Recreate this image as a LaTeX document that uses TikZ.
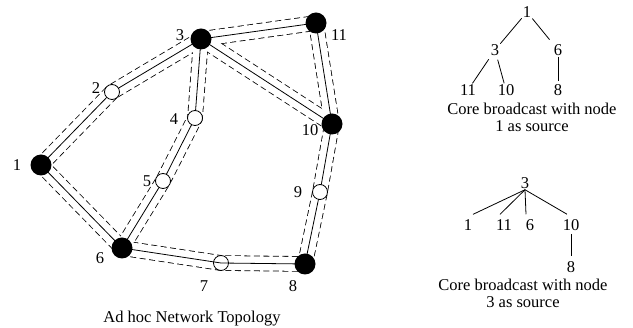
\documentclass[tikz,border=0pt]{standalone}
\usepackage{fontspec}
\setmainfont{Liberation Serif}
\begin{document}
\begin{tikzpicture}[x=1pt,y={(0,-1pt)},
  font=\fontsize{16.5}{17}\selectfont,
  hub/.style={circle,fill=black,inner sep=0pt,minimum size=21pt},
  relay/.style={circle,draw=black,fill=white,line width=0.8pt,inner sep=0pt,minimum size=15pt},
  relayopen/.style={circle,draw=black,line width=0.8pt,inner sep=0pt,minimum size=15pt},
  lbl/.style={inner sep=0pt},
  tlbl/.style={inner sep=1pt},
  band/.style={line width=15.6pt,dash pattern=on 6pt off 3.5pt,line join=miter,line cap=butt},
  bandfill/.style={white,line width=14pt,line join=miter,line cap=butt},
  link/.style={line width=0.8pt},
  tedge/.style={line width=0.8pt}]
\useasboundingbox (0,0) rectangle (633,328);
% network nodes (positions)
\coordinate (p1) at (41,165);
\coordinate (p2) at (112,92);
\coordinate (p3) at (201,39);
\coordinate (p4) at (195,118);
\coordinate (p5) at (163,181);
\coordinate (p6) at (122,248);
\coordinate (p7) at (221,263);
\coordinate (p8) at (305,264);
\coordinate (p9) at (320,192);
\coordinate (p10) at (332,124);
\coordinate (p11) at (316,23);
% dashed bands
\foreach \s in {band,bandfill}{
  \draw[\s] (p1) -- (p2) -- (p3);
  \draw[\s] (p3) -- (p4) -- (p5) -- (p6);
  \draw[\s] (p1) -- (p6);
  \draw[\s] (p6) -- (p7) -- (p8);
  \draw[\s] (p8) -- (p9) -- (p10);
  \draw[\s] (p10) -- (p11);
  \draw[\s] (p3) -- (p11);
  \draw[\s] (p3) -- (p10);
}
% solid links
\draw[link] (p1) -- (p2) -- (p3);
\draw[link] (p3) -- (p4) -- (p5) -- (p6);
\draw[link] (p1) -- (p6);
\draw[link] (p6) -- (p7) -- (p8);
\draw[link] (p8) -- (p9) -- (p10);
\draw[link] (p10) -- (p11);
\draw[link] (p3) -- (p11);
\draw[link] (p3) -- (p10);
% node glyphs
\node[hub] (n1) at (p1) {};
\node[relay] (n2) at (p2) {};
\node[hub] (n3) at (p3) {};
\node[relay] (n4) at (p4) {};
\node[relay] (n5) at (p5) {};
\node[hub] (n6) at (p6) {};
\node[relayopen] (n7) at (p7) {};
\node[hub] (n8) at (p8) {};
\node[relay] (n9) at (p9) {};
\node[hub] (n10) at (p10) {};
\node[hub] (n11) at (p11) {};
% labels
\node[lbl] (l1) at (17,165) {1};
\node[lbl] (l2) at (96,88) {2};
\node[lbl] (l3) at (180,35) {3};
\node[lbl] (l4) at (174,119) {4};
\node[lbl] (l5) at (147,181) {5};
\node[lbl] (l6) at (100,258) {6};
\node[lbl] (l7) at (204,286) {7};
\node[lbl] (l8) at (293,286) {8};
\node[lbl] (l9) at (298,192) {9};
\node[lbl] (l10) at (310,130) {10};
\node[lbl] (l11) at (339,35) {11};
\node[lbl,anchor=base] (cap) at (192,323) {Ad hoc Network Topology};
% tree 1
\node[tlbl] (a1) at (527,12) {1};
\node[tlbl] (a3) at (495,50) {3};
\node[tlbl] (a6) at (558,50) {6};
\node[tlbl] (a11) at (468,90) {11};
\node[tlbl] (a10) at (506,90) {10};
\node[tlbl] (a8) at (558,90) {8};
\draw[tedge] (a1) -- (a3);
\draw[tedge,shorten >=5pt] (a1) -- (a6);
\draw[tedge,shorten <=3pt] (a3) -- (a11);
\draw[tedge,shorten <=3pt] (a3) -- (a10);
\draw[tedge,shorten >=2pt] (a6) -- (a8);
\node[lbl,align=center] (c1) at (532,117) {Core broadcast with node\\1 as source};
% tree 2
\node[tlbl] (b3) at (525,183) {3};
\node[tlbl] (b1) at (468,225) {1};
\node[tlbl] (b11) at (504,225) {11};
\node[tlbl] (b6) at (530,225) {6};
\node[tlbl] (b10) at (571,225) {10};
\node[tlbl] (b8) at (571,267) {8};
\draw[tedge] (b3.south) -- ([xshift=5pt,yshift=4pt]b1.north);
\draw[tedge] (b3.south) -- ([xshift=-4pt,yshift=4pt]b11.north);
\draw[tedge] (b3.south) -- ([xshift=-4pt,yshift=4pt]b6.north);
\draw[tedge] (b3.south) -- ([xshift=-4pt,yshift=4pt]b10.north);
\draw[tedge,shorten <=2pt,shorten >=4pt] (b10) -- (b8);
\node[lbl,align=center] (c2) at (523,293) {Core broadcast with node\\3 as source};
\end{tikzpicture}
\end{document}
